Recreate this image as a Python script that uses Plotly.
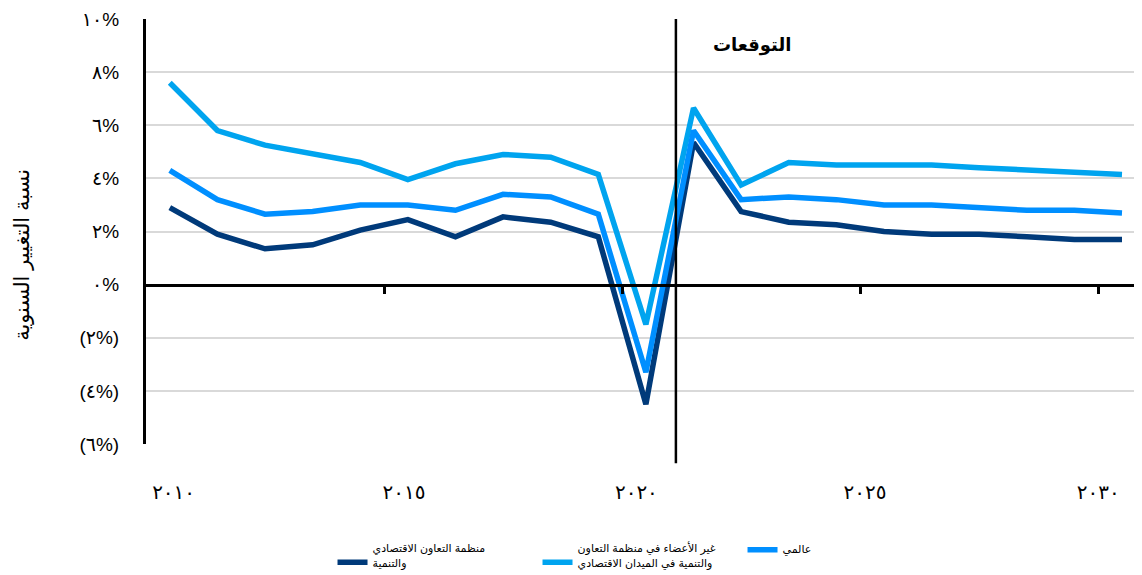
import plotly.graph_objects as go

years = list(range(2010, 2031))
oecd = [2.9, 1.9, 1.35, 1.5, 2.05, 2.45, 1.8, 2.55, 2.35, 1.8, -4.5, 5.35, 2.75, 2.35, 2.25, 2.0, 1.9, 1.9, 1.8, 1.7, 1.7]
non_oecd = [7.6, 5.8, 5.25, 4.95, 4.6, 3.95, 4.55, 4.9, 4.8, 4.15, -1.5, 6.65, 3.75, 4.6, 4.5, 4.5, 4.5, 4.4, 4.3, 4.25, 4.15]
world = [4.3, 3.2, 2.65, 2.75, 3.0, 3.0, 2.8, 3.4, 3.3, 2.65, -3.3, 5.8, 3.2, 3.3, 3.2, 3.0, 3.0, 2.9, 2.8, 2.8, 2.7]

names = ["منظمة التعاون الاقتصادي<br>والتنمية",
         "غير الأعضاء في منظمة التعاون<br>والتنمية في الميدان الاقتصادي",
         "عالمي"]
colors = ["#003a7a", "#00a4ef", "#008fff"]

y_tickvals = [10, 8, 6, 4, 2, 0, -2, -4, -6]
y_ticktext = ["١٠%", "٨%", "٦%", "٤%", "٢%", "٠%", "(٢%)", "(٤%)", "(٦%)"]
x_label_pos = [2010.08, 2014.92, 2019.8, 2024.6, 2029.5]
x_ticktext = ["٢٠١٠", "٢٠١٥", "٢٠٢٠", "٢٠٢٥", "٢٠٣٠"]
x_tick_marks = [2014.5, 2019.5, 2024.5, 2029.5]
forecast_x = 2020.63
forecast_label = "التوقعات"
y_title = "نسبة التغيير السنوية"

font_family = "Liberation Sans, DejaVu Sans, sans-serif"

fig = go.Figure()
for vals, name, col in zip([oecd, non_oecd, world], names, colors):
    fig.add_trace(go.Scatter(x=years, y=vals, mode="lines", name=name,
                             line=dict(color=col, width=5.5)))

# invisible helper trace for zero-line axis
fig.add_trace(go.Scatter(x=years, y=[0]*len(years), xaxis="x2", mode="lines",
                         line=dict(width=0), showlegend=False, hoverinfo="skip",
                         opacity=0))

# page body has an 8px default margin, so the figure is sized to fit the window
fig.update_layout(
    width=1134, height=567,
    margin=dict(l=138, r=0, t=11, b=131, autoexpand=False),
    plot_bgcolor="white", paper_bgcolor="white",
    font=dict(family=font_family, color="black"),
    xaxis=dict(range=[2009.5, 2030.42], tickvals=x_label_pos, ticktext=x_ticktext,
               showgrid=False, zeroline=False, showline=False, ticks="",
               tickfont=dict(size=20), ticklabelstandoff=34, automargin=False),
    xaxis2=dict(range=[2009.5, 2030.42], overlaying="x", anchor="free", position=0.375,
                showline=True, linecolor="black", linewidth=3,
                tickvals=x_tick_marks, ticks="outside", ticklen=7, tickwidth=2.5,
                tickcolor="black", showticklabels=False, showgrid=False, zeroline=False,
                automargin=False),
    yaxis=dict(range=[-6, 10], tickvals=y_tickvals, ticktext=y_ticktext,
               showgrid=True, gridcolor="#d9d9d9", gridwidth=2,
               zeroline=False, showline=True, linecolor="black", linewidth=3,
               ticks="", tickfont=dict(size=19), ticklabelstandoff=20, automargin=False),
    legend=dict(orientation="h", x=0.496, xanchor="center", y=-0.262, yanchor="middle",
                font=dict(size=11), traceorder="normal", valign="bottom",
                entrywidth=160, entrywidthmode="pixels"),
    showlegend=True,
)

fig.add_shape(type="line", xref="x", yref="paper", x0=forecast_x, x1=forecast_x,
              y0=-0.045, y1=1.0, line=dict(color="black", width=2.5))
fig.add_annotation(x=2022.23, y=9.0, xref="x", yref="y", text="<b>" + forecast_label + "</b>",
                   showarrow=False, font=dict(size=18, color="black"))
fig.add_annotation(x=-0.1245, y=0.445, xref="paper", yref="paper", text=y_title,
                   xanchor="center", yanchor="middle",
                   textangle=-90, showarrow=False, font=dict(size=21, color="black"))

fig.write_html("out.html")
